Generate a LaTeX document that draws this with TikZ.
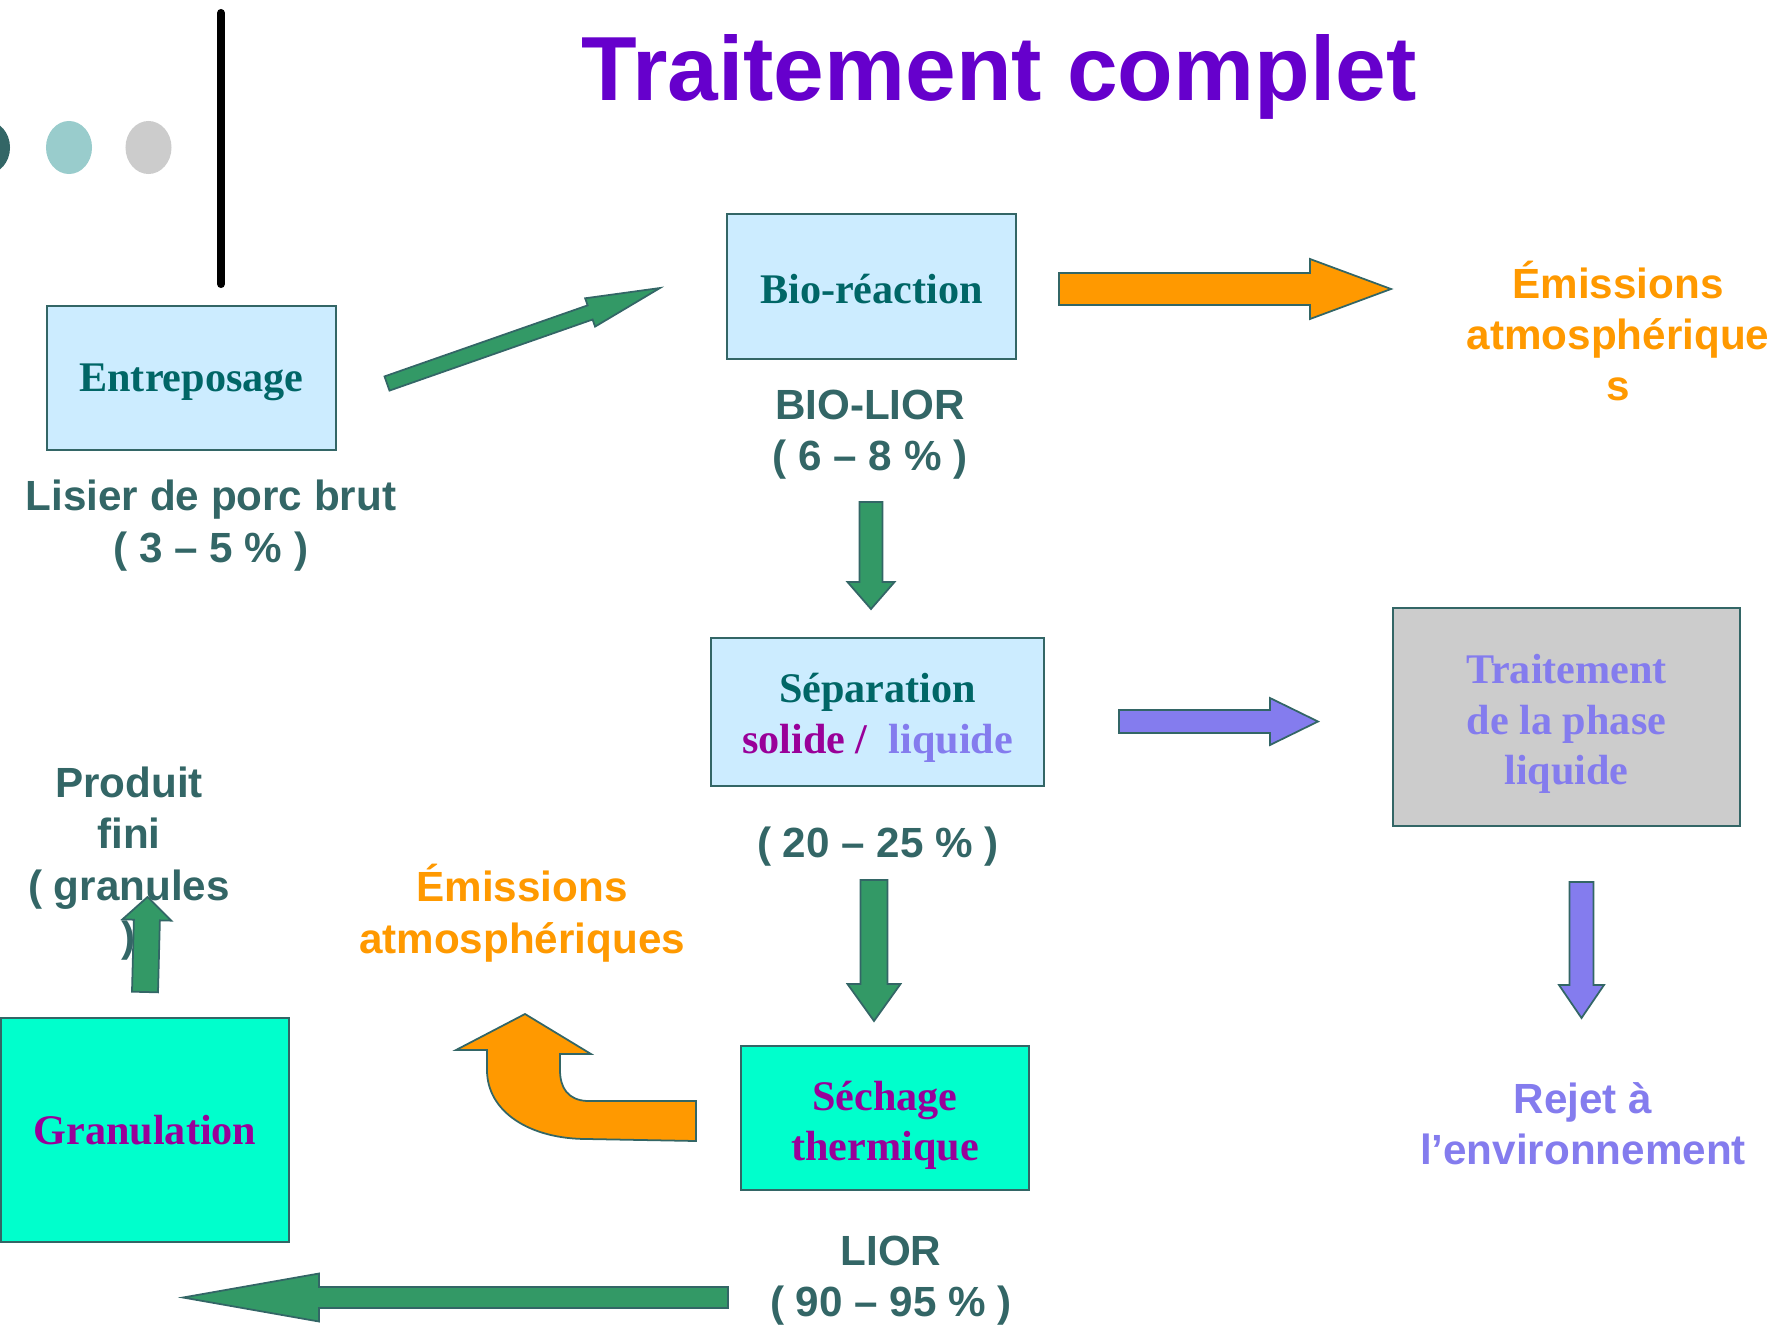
\documentclass[tikz,border=0pt]{standalone}
\usepackage{fontspec}
\setmainfont{Liberation Serif}
\newfontfamily\labelfont{Liberation Sans}
\usepackage{xcolor}
\usetikzlibrary{calc}
\definecolor{titlepurple}{RGB}{102,0,204}
\definecolor{boxblue}{RGB}{204,236,255}
\definecolor{darkteal}{RGB}{51,102,102}
\definecolor{boxteal}{RGB}{0,102,102}
\definecolor{plum}{RGB}{153,0,153}
\definecolor{lavender}{RGB}{132,124,238}
\definecolor{aqua}{RGB}{0,255,204}
\definecolor{arrowgreen}{RGB}{51,153,102}
\definecolor{emisorange}{RGB}{255,153,0}
\definecolor{softgray}{RGB}{204,204,204}
\definecolor{dotteal}{RGB}{153,204,204}

% block arrow: style, tail, tip, shaft half-width, head half-width, head length
\newcommand{\blockarrow}[6]{%
  \coordinate (ba-h) at ($(#3)!#6!(#2)$);
  \draw[#1] ($(#2)!#4!90:(#3)$) -- ($(ba-h)!#4!90:(#3)$) -- ($(ba-h)!#5!90:(#3)$) -- (#3)
    -- ($(ba-h)!#5!-90:(#3)$) -- ($(ba-h)!#4!-90:(#3)$) -- ($(#2)!#4!-90:(#3)$) -- cycle;}
% raise the first line of a box text
\newcommand{\topline}[1]{\rule{0pt}{#1}}

\begin{document}
\begin{tikzpicture}[x=0.01cm, y=-0.01cm,
  every node/.style={align=center, inner sep=0pt},
  labeltext/.style={font=\labelfont\bfseries\fontsize{12}{14.6}\selectfont, text=darkteal},
  emistext/.style={labeltext, text=emisorange},
  stage/.style={draw=darkteal, line width=0.6pt, font=\rmfamily\bfseries\fontsize{12}{14.4}\selectfont},
  greenblock/.style={fill=arrowgreen, draw=darkteal, line width=0.5pt},
  orangeblock/.style={fill=emisorange, draw=darkteal, line width=0.5pt},
  violetblock/.style={fill=lavender, draw=darkteal, line width=0.5pt}]
\useasboundingbox (0,0) rectangle (1779,1324);

% header
\fill[darkteal] (-13,147.5) ellipse [x radius=0.23cm, y radius=0.265cm];
\fill[dotteal] (69,147.5) ellipse [x radius=0.23cm, y radius=0.265cm];
\fill[softgray] (148.5,147.5) ellipse [x radius=0.23cm, y radius=0.265cm];
\draw[line width=2.3pt, line cap=round] (221,13) -- (221,284);
\node[font=\labelfont\bfseries\fontsize{25.9}{30}\selectfont, text=titlepurple, anchor=base] (title) at (999,100.5) {Traitement complet};

% stages
\node[stage, fill=boxblue, text=boxteal, minimum width=2.89cm, minimum height=1.44cm] (entre) at (191.5,378) {\topline{10.5pt}Entreposage};
\node[stage, fill=boxblue, text=boxteal, minimum width=2.89cm, minimum height=1.45cm] (bio) at (871.5,286.5) {\topline{9.7pt}Bio-réaction};
\node[stage, fill=boxblue, text=boxteal, minimum width=3.33cm, minimum height=1.48cm] (sep) at (877.5,712) {\topline{11.8pt}Séparation\\{\color{plum}solide /}~~{\color{lavender}liquide}};
\node[stage, fill=softgray, text=lavender, minimum width=3.47cm, minimum height=2.18cm] (trait) at (1566.5,717) {\topline{12.3pt}Traitement\\de la phase\\liquide};
\node[stage, fill=aqua, text=plum, minimum width=2.88cm, minimum height=1.44cm] (sech) at (885,1118) {\topline{12.4pt}Séchage\\thermique};
\node[stage, fill=aqua, text=plum, minimum width=2.88cm, minimum height=2.24cm] (gran) at (145,1130) {Granulation};

% labels
\node[labeltext] (lisier) at (211,525.5) {Lisier de porc brut\\( 3 – 5 \% )};
\node[labeltext] (biolior) at (870,434.5) {BIO-LIOR\\( 6 – 8 \% )};
\node[labeltext] (seppct) at (878,846.5) {( 20 – 25 \% )};
\node[labeltext] (lior) at (891,1280.5) {LIOR\\( 90 – 95 \% )};
\node[labeltext] (produit) at (129,863.5) {Produit\\fini\\( granules\\)};
\node[emistext] (emishaut) at (1618,331) {Émissions\\atmosphérique\\s};
\node[emistext] (emisbas) at (522,913) {Émissions\\atmosphériques};
\node[labeltext, text=lavender] (rejet) at (1583,1124) {Rejet à\\l’environnement};

% arrows
\coordinate (entre-out) at (387,383.5);
\coordinate (bio-in) at (660,288);
\coordinate (bio-out) at (1059,289);
\coordinate (emis-in) at (1391,289);
\coordinate (biolior-out) at (871,502);
\coordinate (sep-in) at (871,609);
\coordinate (sep-down) at (874,880);
\coordinate (sech-in) at (874,1021);
\coordinate (sep-right) at (1119,721.5);
\coordinate (trait-in) at (1318,721.5);
\coordinate (trait-out) at (1581.5,882);
\coordinate (rejet-in) at (1581.5,1018);
\coordinate (lior-out) at (728,1297.5);
\coordinate (gran-in) at (183,1297.5);
\coordinate (gran-out) at (145,992);
\coordinate (produit-in) at (147.5,897);

\blockarrow{greenblock}{entre-out}{bio-in}{0.075cm}{0.15cm}{0.74cm}
\blockarrow{orangeblock}{bio-out}{emis-in}{0.16cm}{0.30cm}{0.81cm}
\blockarrow{greenblock}{biolior-out}{sep-in}{0.115cm}{0.235cm}{0.27cm}
\blockarrow{greenblock}{sep-down}{sech-in}{0.135cm}{0.265cm}{0.37cm}
\blockarrow{violetblock}{sep-right}{trait-in}{0.115cm}{0.235cm}{0.48cm}
\blockarrow{violetblock}{trait-out}{rejet-in}{0.12cm}{0.225cm}{0.33cm}
\blockarrow{greenblock}{lior-out}{gran-in}{0.105cm}{0.24cm}{1.36cm}
\blockarrow{greenblock}{gran-out}{produit-in}{0.13cm}{0.245cm}{0.23cm}

% curved emission arrow
\draw[orangeblock] (696,1101) -- (587,1101) .. controls (568,1100) and (560,1088) .. (560,1070)
  -- (560,1054) -- (591,1054) -- (525,1014) -- (456,1050) -- (487,1050) -- (487,1070)
  .. controls (487,1112) and (530,1139) .. (587,1139) -- (696,1141) -- cycle;
\end{tikzpicture}
\end{document}
